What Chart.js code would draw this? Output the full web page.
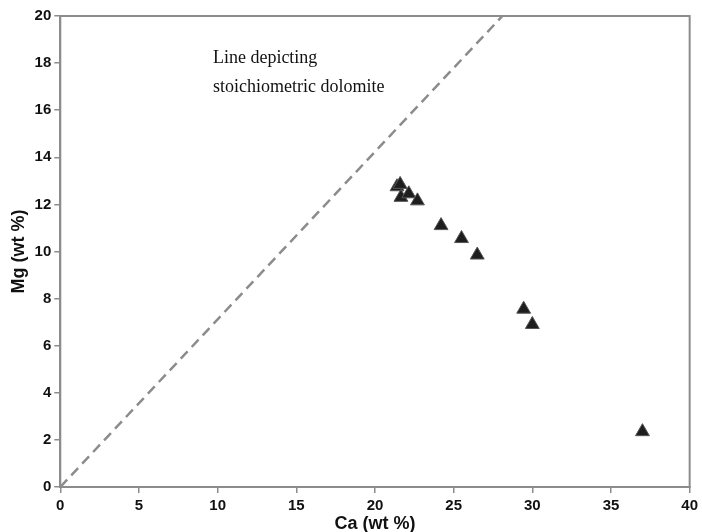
<!DOCTYPE html>
<html>
<head>
<meta charset="utf-8">
<script src="https://cdn.jsdelivr.net/npm/chart.js@4.4.0/dist/chart.umd.min.js"></script>
<style>
  html, body { margin: 0; padding: 0; background: #fff; }
  #wrap { width: 702px; height: 532px; }
</style>
</head>
<body>
<div id="wrap"><canvas id="chart" width="702" height="532"></canvas></div>
<script>
// sample values
const caValues = [21.4, 21.6, 21.65, 22.15, 22.7, 24.2, 25.5, 26.5, 29.45, 30.0, 37.0];
const mgValues = [12.75, 12.85, 12.3, 12.45, 12.15, 11.1, 10.55, 9.85, 7.55, 6.9, 2.35];

// dashed reference line (stoichiometric dolomite)
const lineCa = [0, 28.1];
const lineMg = [0, 20];

const xTicks = [0, 5, 10, 15, 20, 25, 30, 35, 40];
const yTicks = [0, 2, 4, 6, 8, 10, 12, 14, 16, 18, 20];

const noteLines = ['Line depicting', 'stoichiometric dolomite'];
const notePos = { x: 9.7, y: 18.0 };

const axisGrey = '#8c8c8c';

const samples = caValues.map((ca, i) => ({ x: ca, y: mgValues[i] }));
const refLine = lineCa.map((ca, i) => ({ x: ca, y: lineMg[i] }));

// box around the plot area + text note
const boxAndNote = {
    id: 'boxAndNote',
    beforeDatasetsDraw(chart) {
        const { ctx, chartArea } = chart;
        ctx.save();
        ctx.strokeStyle = axisGrey;
        ctx.lineWidth = 2;
        ctx.strokeRect(chartArea.left, chartArea.top, chartArea.right - chartArea.left, chartArea.bottom - chartArea.top);
        ctx.restore();
    },
    afterDatasetsDraw(chart) {
        const { ctx, scales } = chart;
        const px = scales.x.getPixelForValue(notePos.x);
        const py = scales.y.getPixelForValue(notePos.y);
        ctx.save();
        ctx.fillStyle = '#111';
        ctx.font = '18px "Liberation Serif", "DejaVu Serif", serif';
        ctx.textBaseline = 'alphabetic';
        noteLines.forEach((t, i) => ctx.fillText(t, px, py + i * 29));
        ctx.restore();
    }
};

new Chart(document.getElementById('chart'), {
    type: 'scatter',
    data: {
        datasets: [
            {
                label: 'Stoichiometric dolomite',
                data: refLine,
                showLine: true,
                borderColor: axisGrey,
                borderWidth: 2.5,
                borderDash: [10, 6],
                pointRadius: 0,
                fill: false
            },
            {
                label: 'Samples',
                data: samples,
                pointStyle: 'triangle',
                pointRadius: 8,
                backgroundColor: '#1e1e1e',
                borderColor: '#555',
                borderWidth: 1
            }
        ]
    },
    options: {
        responsive: false,
        animation: false,
        layout: { padding: { top: 16, right: 6, left: 8, bottom: -3 } },
        plugins: {
            legend: { display: false },
            tooltip: { enabled: false }
        },
        scales: {
            x: {
                type: 'linear',
                min: 0,
                max: 40,
                afterBuildTicks: axis => { axis.ticks = xTicks.map(v => ({ value: v })); },
                grid: { drawOnChartArea: false, color: axisGrey, tickLength: 6, lineWidth: 1.5 },
                border: { color: axisGrey, width: 2 },
                ticks: {
                    color: '#111',
                    padding: 4,
                    maxRotation: 0,
                    font: { family: '"Liberation Sans", Arial, sans-serif', size: 15, weight: 'bold' }
                },
                title: {
                    display: true,
                    text: 'Ca (wt %)',
                    color: '#111',
                    padding: { top: -5.6, bottom: 0 },
                    font: { family: '"Liberation Sans", Arial, sans-serif', size: 18, weight: 'bold' }
                }
            },
            y: {
                type: 'linear',
                min: 0,
                max: 20,
                afterBuildTicks: axis => { axis.ticks = yTicks.map(v => ({ value: v })); },
                grid: { drawOnChartArea: false, color: axisGrey, tickLength: 6, lineWidth: 1.5 },
                border: { color: axisGrey, width: 2 },
                ticks: {
                    color: '#111',
                    padding: 3,
                    font: { family: '"Liberation Sans", Arial, sans-serif', size: 15, weight: 'bold' }
                },
                title: {
                    display: true,
                    text: 'Mg (wt %)',
                    color: '#111',
                    padding: { top: 0, bottom: 2 },
                    font: { family: '"Liberation Sans", Arial, sans-serif', size: 18, weight: 'bold' }
                }
            }
        }
    },
    plugins: [boxAndNote]
});
</script>
</body>
</html>
